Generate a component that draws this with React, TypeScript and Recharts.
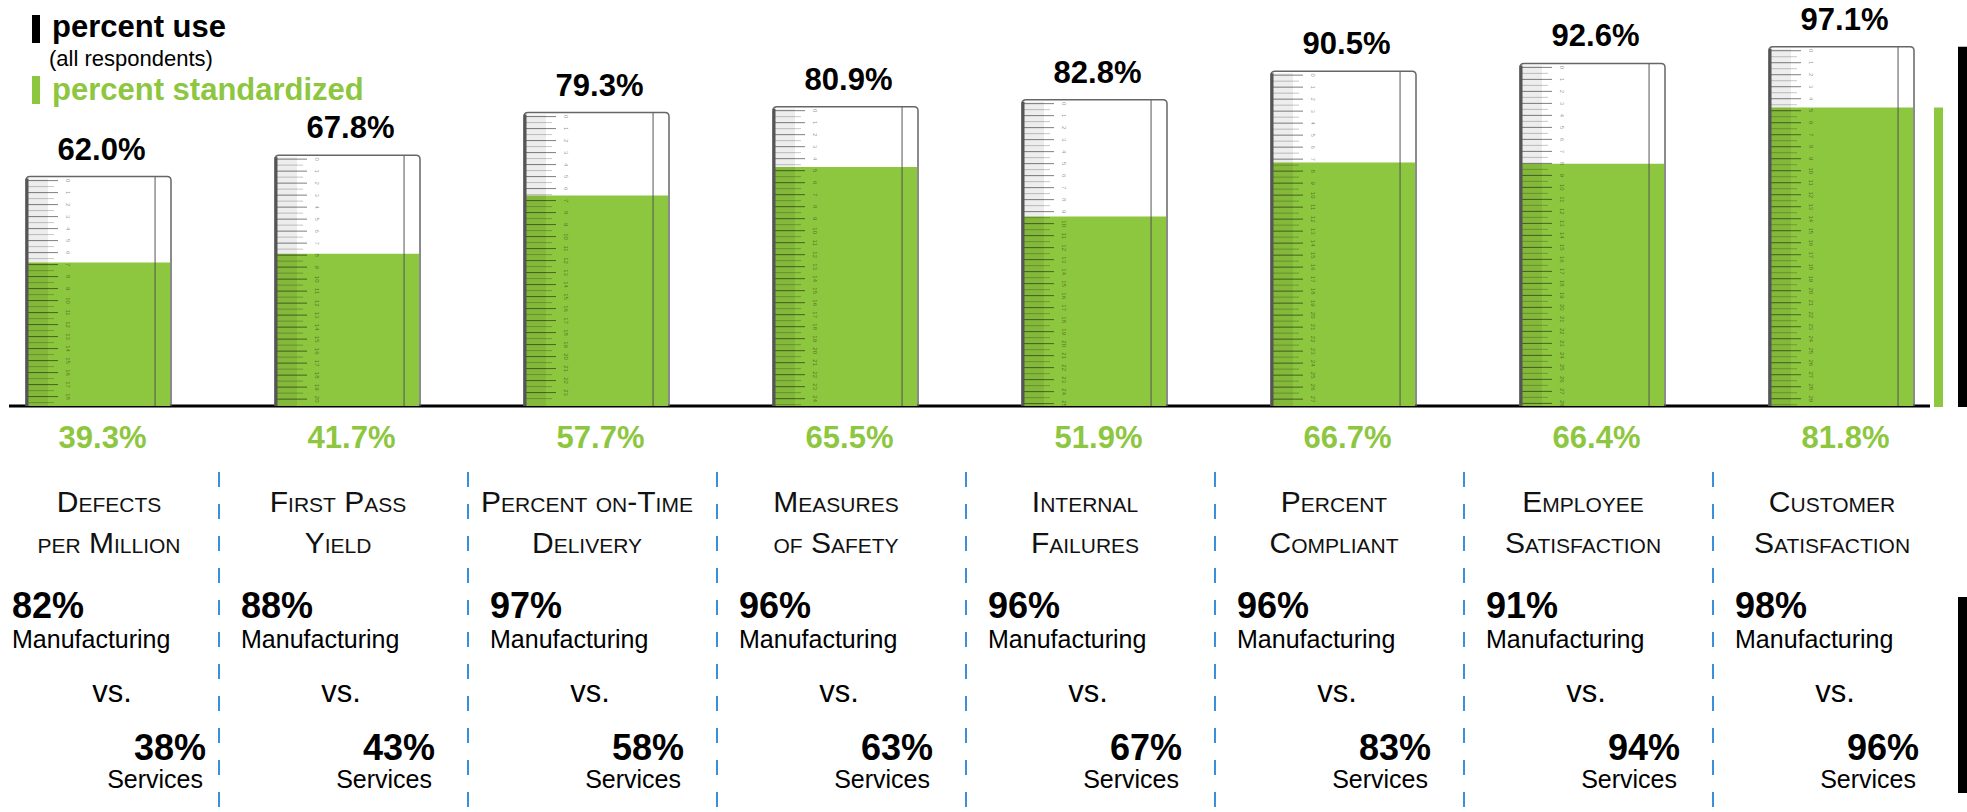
import { Bar, BarChart, Customized, LabelList, XAxis, YAxis } from 'recharts';

const titleTop = ['Defects', 'First Pass', 'Percent on-Time', 'Measures', 'Internal', 'Percent', 'Employee', 'Customer'];
const titleBottom = ['per Million', 'Yield', 'Delivery', 'of Safety', 'Failures', 'Compliant', 'Satisfaction', 'Satisfaction'];
const percentUse = [62.0, 67.8, 79.3, 80.9, 82.8, 90.5, 92.6, 97.1];
const percentStandardized = [39.3, 41.7, 57.7, 65.5, 51.9, 66.7, 66.4, 81.8];
const manufacturing = [82, 88, 97, 96, 96, 96, 91, 98];
const services = [38, 43, 58, 63, 67, 83, 94, 96];

const rows = titleTop.map((t, i) => ({
  name: String(i),
  use: percentUse[i],
  std: percentStandardized[i],
}));

const W = 1967;
const H = 812;
const MARGIN = { top: 36, right: 1, bottom: 376, left: -26 };
const BAND = (W - MARGIN.left - MARGIN.right) / rows.length;
const BASE_Y = 406;
const GREEN = '#8dc63f';
const FONT = '"Liberation Sans", Arial, sans-serif';

function Cylinder(props: any) {
  const { x, y, width, height } = props;
  if (!height) return null;
  const r = 4;
  const ticks = [];
  for (let i = 0; 4 + i * 12 < height - 2; i++) {
    const ty = y + 4 + i * 12;
    ticks.push(
      <g key={i}>
        <line x1={x + 1} x2={x + 32} y1={ty} y2={ty} stroke="rgba(0,0,0,0.5)" strokeWidth={1} />
        {ty + 6 < y + height - 1 && (
          <line x1={x + 1} x2={x + 28} y1={ty + 6} y2={ty + 6} stroke="rgba(0,0,0,0.22)" strokeWidth={1} />
        )}
        <text
          x={x + 42}
          y={ty}
          fontSize={6}
          fill="rgba(0,0,0,0.45)"
          fontFamily={FONT}
          textAnchor="middle"
          dominantBaseline="central"
          transform={`rotate(90 ${x + 42} ${ty})`}
        >
          {i}
        </text>
      </g>
    );
  }
  return (
    <g>
      <rect x={x + 1} y={y + 2} width={21} height={height - 2} fill="rgba(0,0,0,0.07)" />
      {ticks}
      <line x1={x + width * 0.89} x2={x + width * 0.89} y1={y} y2={y + height} stroke="#555" strokeWidth={1} />
      <path
        d={`M${x},${y + height} V${y + r} Q${x},${y} ${x + r},${y} H${x + width - r} Q${x + width},${y} ${x + width},${y + r} V${y + height}`}
        fill="none"
        stroke="#666"
        strokeWidth={1.5}
      />
      <line x1={x + 1} x2={x + 1} y1={y + 2} y2={y + height} stroke="#555" strokeWidth={3} />
    </g>
  );
}

function ColumnTick(props: any) {
  const { x, index } = props;
  const left = Math.max(12, x - 106.5);
  const right = Math.min(left + 194, W - 48);
  const divider = x + BAND / 2 - 4;
  return (
    <g fontFamily={FONT}>
      <text x={x + 4} y={448} textAnchor="middle" fontSize={31} fontWeight={700} fill={GREEN}>
        {percentStandardized[index].toFixed(1)}%
      </text>
      <text x={left + 97} y={512} textAnchor="middle" fontSize={30} style={{ fontVariant: 'small-caps' }} fill="#111">
        {titleTop[index]}
      </text>
      <text x={left + 97} y={553} textAnchor="middle" fontSize={30} style={{ fontVariant: 'small-caps' }} fill="#111">
        {titleBottom[index]}
      </text>
      <text x={left} y={618} fontSize={36} fontWeight={700} fill="#000">
        {manufacturing[index]}%
      </text>
      <text x={left} y={648} fontSize={25} fill="#000">
        Manufacturing
      </text>
      <text x={left + 100} y={702} textAnchor="middle" fontSize={31} fill="#000">
        vs.
      </text>
      <text x={right} y={760} textAnchor="end" fontSize={36} fontWeight={700} fill="#000">
        {services[index]}%
      </text>
      <text x={right - 3} y={788} textAnchor="end" fontSize={25} fill="#000">
        Services
      </text>
      {index < rows.length - 1 && (
        <line x1={divider} x2={divider} y1={472} y2={H} stroke="#3a8fd6" strokeWidth={2} strokeDasharray="15 17" />
      )}
    </g>
  );
}

function Decor() {
  const last = rows.length - 1;
  const useTop = BASE_Y - (percentUse[last] / 100) * (BASE_Y - MARGIN.top);
  const stdTop = BASE_Y - (percentStandardized[last] / 101.4) * (BASE_Y - MARGIN.top);
  return (
    <g fontFamily={FONT}>
      <rect x={32} y={15} width={8} height={28} fill="#000" />
      <text x={52} y={37} fontSize={31} fontWeight={700} fill="#000">percent use</text>
      <text x={49} y={66} fontSize={22} fill="#000">(all respondents)</text>
      <rect x={32} y={76} width={8} height={28} fill={GREEN} />
      <text x={52} y={100} fontSize={31} fontWeight={700} fill={GREEN}>percent standardized</text>
      <line x1={9} x2={1930} y1={BASE_Y} y2={BASE_Y} stroke="#000" strokeWidth={3} />
      <rect x={1934} y={stdTop} width={9} height={BASE_Y + 1 - stdTop} fill={GREEN} />
      <rect x={1958} y={useTop} width={9} height={BASE_Y + 1 - useTop} fill="#000" />
      <rect x={1958} y={597} width={9} height={196} fill="#000" />
    </g>
  );
}

export default function App() {
  return (
    <div style={{ position: 'absolute', left: 0, top: 0, width: W, height: H, background: '#fff' }}>
      <BarChart width={W} height={H} data={rows} margin={MARGIN}>
        <XAxis xAxisId="g" dataKey="name" hide />
        <XAxis
          xAxisId="u"
          dataKey="name"
          height={30}
          axisLine={false}
          tickLine={false}
          interval={0}
          tick={<ColumnTick />}
        />
        <YAxis yAxisId="g" domain={[0, 101.4]} hide />
        <YAxis yAxisId="u" domain={[0, 100]} hide />
        <Bar xAxisId="g" yAxisId="g" dataKey="std" fill={GREEN} barSize={143} isAnimationActive={false} />
        <Bar
          xAxisId="u"
          yAxisId="u"
          dataKey="use"
          barSize={145}
          shape={(p: any) => <Cylinder {...p} />}
          isAnimationActive={false}
        >
          <LabelList
            dataKey="use"
            position="top"
            offset={17}
            dx={3}
            fill="#000"
            fontSize={31}
            fontWeight={700}
            fontFamily={FONT}
            formatter={(v: any) => `${Number(v).toFixed(1)}%`}
          />
        </Bar>
        <Customized component={<Decor />} />
      </BarChart>
    </div>
  );
}
